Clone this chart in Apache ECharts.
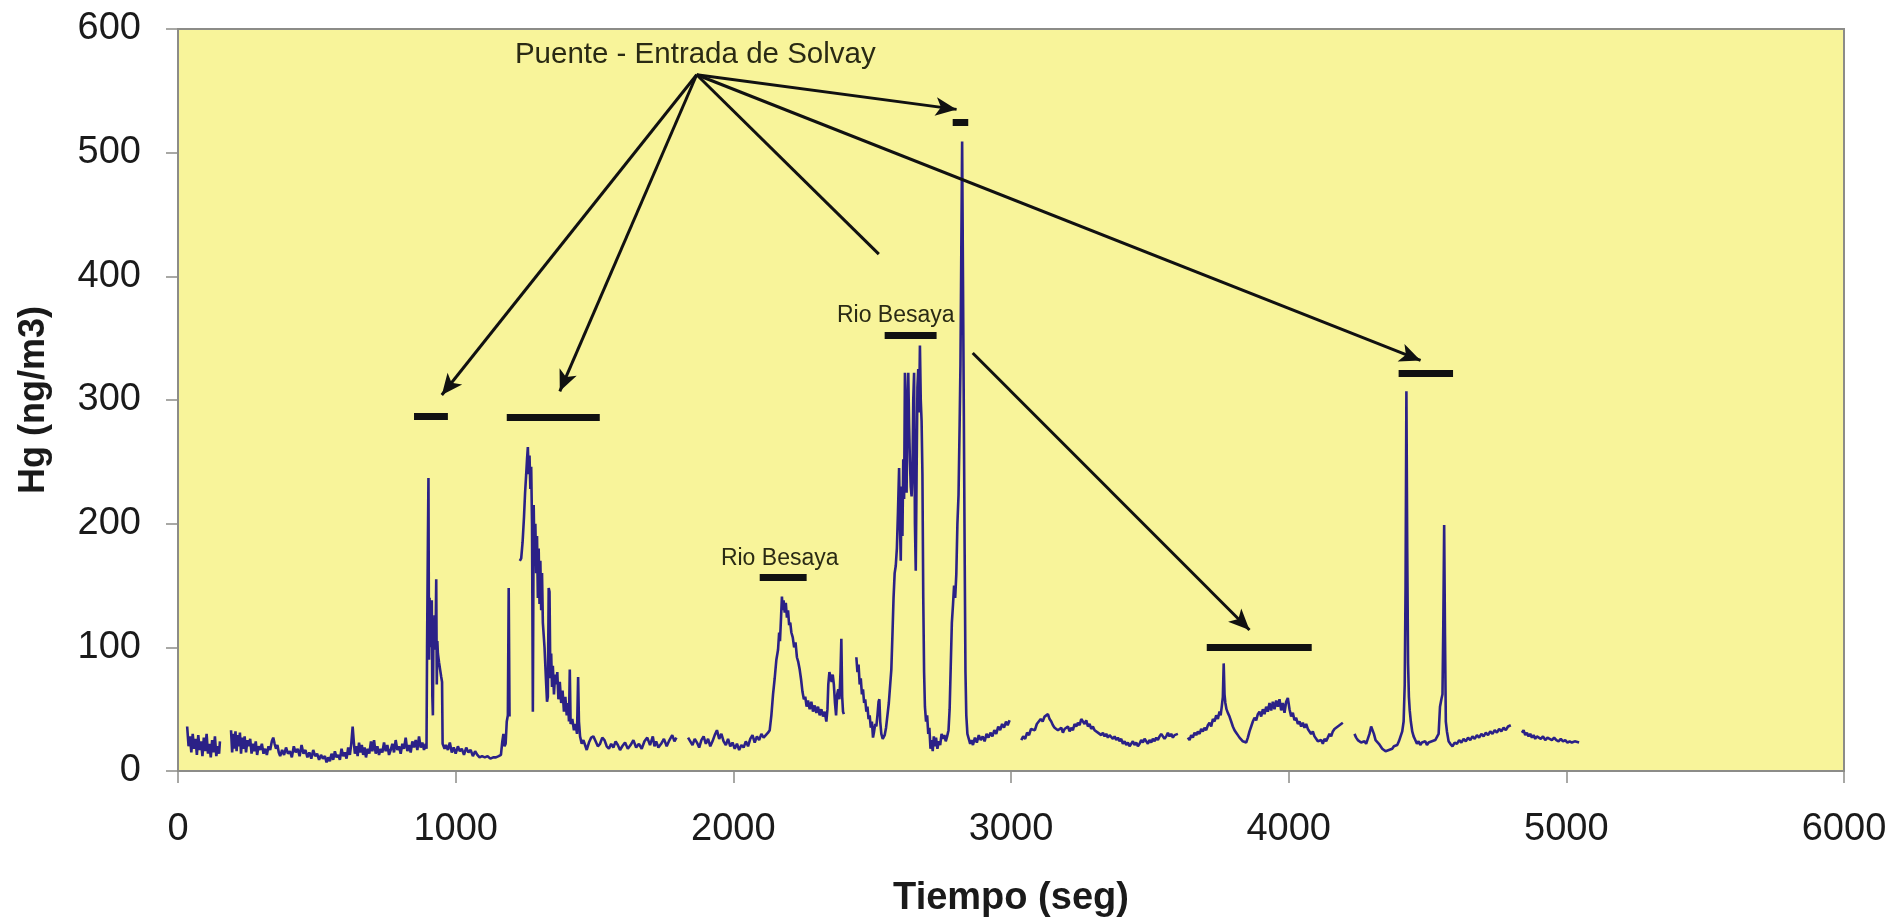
<!DOCTYPE html>
<html>
<head>
<meta charset="utf-8">
<title>Hg - Tiempo</title>
<script src="https://cdn.jsdelivr.net/npm/echarts@6/dist/echarts.min.js"></script>
<style>
    html, body { margin: 0; padding: 0; background: #fff; }
    #grafico { width: 1893px; height: 919px; }
</style>
</head>
<body>
<div id="grafico"></div>
<script>
// [tiempo (seg), Hg (ng/m3)] ; null = hueco en el registro
const mediciones = [
    [33, 36], [38, 20], [43, 28], [48, 15], [53, 30], [58, 18], [63, 26], [68, 13], [73, 29], [78, 17], [83, 24], [88, 12],
    [93, 27], [98, 16], [103, 30], [108, 14], [113, 22], [118, 11], [123, 25], [128, 15], [133, 28], [138, 12], [143, 20],
    [148, 14], [151, 24], [170, null],
    [191, 33], [195, 15], [199, 30], [203, 18], [207, 32], [211, 16], [215, 29], [219, 20], [223, 31], [227, 14], [231, 27],
    [235, 18], [240, 28], [245, 15], [250, 25], [255, 20], [260, 26], [265, 14], [270, 22], [275, 16], [280, 24], [285, 13],
    [290, 20], [296, 17], [302, 22], [308, 14], [314, 18], [320, 13], [326, 20], [332, 17], [338, 24], [343, 27], [348, 22],
    [353, 18], [358, 21], [363, 15], [368, 12], [375, 17], [382, 13], [389, 19], [396, 14], [403, 16], [410, 11], [417, 20],
    [424, 15], [431, 18], [438, 12], [445, 21], [452, 14], [459, 17], [466, 11], [473, 15], [480, 10], [487, 17], [494, 12],
    [501, 14], [508, 9], [515, 13], [522, 10], [529, 12], [535, 7], [541, 11], [547, 8], [553, 14], [559, 9], [565, 16],
    [571, 11], [577, 13], [583, 9], [589, 18], [595, 12], [601, 15], [607, 10], [613, 19], [619, 13], [624, 22], [629, 36],
    [633, 24], [637, 14], [642, 20], [647, 12], [652, 23], [657, 15], [662, 21], [667, 13], [672, 19], [677, 11], [683, 18],
    [689, 14], [695, 24], [700, 16], [706, 25], [712, 14], [718, 20], [724, 13], [730, 18], [736, 15], [742, 23], [748, 16],
    [754, 21], [760, 13], [766, 17], [772, 22], [778, 15], [784, 25], [790, 17], [796, 20], [802, 14], [808, 22], [814, 18],
    [820, 27], [826, 16], [832, 21], [838, 15], [844, 24], [850, 19], [856, 25], [862, 17], [868, 28], [874, 19], [880, 23],
    [886, 17], [892, 22],
    [895, 18], [897, 100], [900, 185], [902, 237], [904, 90], [906, 140], [908, 100], [910, 130], [912, 108], [914, 138],
    [916, 60], [918, 45], [920, 118], [922, 104], [924, 126], [926, 98], [928, 115], [930, 155], [932, 70], [934, 105],
    [936, 95], [940, 88], [944, 82], [948, 76], [951, 72], [953, 22], [960, 18],
    [965, 21], [972, 17], [979, 23], [986, 15], [993, 19], [1000, 14], [1008, 20], [1015, 16], [1022, 18], [1030, 13],
    [1038, 19], [1046, 15], [1054, 17], [1062, 12], [1070, 16], [1078, 13], [1086, 11], [1095, 12], [1105, 11], [1115, 12],
    [1125, 10], [1135, 11], [1145, 11], [1155, 12], [1163, 13], [1168, 24], [1172, 30], [1176, 20], [1180, 22], [1184, 40],
    [1188, 45], [1191, 148], [1194, 44], [1210, null],
    [1231, 170], [1236, 172], [1241, 185], [1246, 205], [1250, 225], [1254, 240], [1257, 252], [1260, 262], [1263, 240],
    [1266, 255], [1269, 228], [1272, 246], [1275, 200], [1278, 48], [1281, 215], [1284, 170], [1287, 200], [1290, 160],
    [1293, 190], [1296, 140], [1299, 180], [1302, 135], [1305, 170], [1308, 130], [1311, 160], [1314, 120], [1317, 110],
    [1320, 100], [1323, 85], [1326, 70], [1329, 56], [1332, 60], [1335, 148], [1338, 145], [1341, 75], [1344, 95],
    [1347, 68], [1350, 85], [1354, 62], [1358, 78], [1362, 70], [1366, 80], [1370, 58], [1375, 72], [1380, 55], [1385, 65],
    [1390, 48], [1395, 60], [1400, 45], [1405, 55], [1408, 40], [1411, 82], [1414, 38], [1420, 42], [1426, 33], [1432, 38],
    [1437, 30], [1441, 76], [1444, 40], [1448, 28], [1454, 22], [1460, 25], [1466, 21],
    [1472, 17], [1480, 23], [1488, 27], [1496, 28], [1504, 24], [1512, 20], [1520, 22], [1528, 27], [1536, 25], [1544, 20],
    [1552, 18], [1560, 22], [1568, 19], [1576, 24], [1584, 21], [1592, 17], [1600, 20], [1610, 23], [1620, 18], [1630, 21],
    [1640, 25], [1650, 19], [1660, 22], [1670, 18], [1680, 24], [1690, 27], [1700, 21], [1710, 28], [1716, 20], [1722, 24],
    [1730, 19], [1740, 22], [1750, 26], [1760, 20], [1770, 25], [1780, 29], [1788, 24], [1795, 27], [1815, null],
    [1837, 27], [1845, 24], [1853, 21], [1861, 26], [1869, 23], [1877, 19], [1885, 25], [1893, 28], [1901, 22], [1909, 26],
    [1917, 20], [1925, 24], [1933, 29], [1941, 33], [1949, 26], [1957, 30], [1965, 24], [1973, 21], [1981, 26], [1989, 20],
    [1997, 23], [2005, 18], [2013, 22], [2021, 17], [2029, 21], [2037, 19], [2045, 24], [2053, 20], [2061, 26], [2069, 29],
    [2077, 23], [2085, 28], [2093, 25], [2101, 30], [2109, 27], [2117, 29], [2125, 31], [2131, 33], [2137, 45], [2143, 62],
    [2149, 75], [2155, 90], [2161, 98], [2165, 112], [2168, 105], [2172, 125], [2175, 141], [2178, 130], [2181, 138],
    [2185, 128], [2189, 136], [2193, 124], [2197, 130], [2201, 118], [2205, 120], [2209, 112], [2214, 108], [2219, 100],
    [2224, 104], [2229, 92], [2234, 88], [2239, 82], [2244, 74], [2249, 64], [2254, 58], [2259, 60], [2264, 52], [2269, 57],
    [2275, 50], [2281, 56], [2287, 48], [2293, 53], [2299, 47], [2305, 52], [2311, 45], [2317, 50], [2323, 44], [2329, 48],
    [2335, 40], [2339, 50], [2342, 70], [2346, 80], [2350, 76], [2354, 72], [2358, 78], [2362, 70], [2366, 55], [2370, 45],
    [2374, 62], [2378, 66], [2382, 58], [2386, 80], [2389, 107], [2392, 60], [2395, 48], [2398, 46], [2420, null],
    [2443, 92], [2447, 80], [2451, 86], [2455, 70], [2459, 75], [2463, 62], [2467, 66], [2471, 55], [2475, 58], [2479, 48],
    [2483, 52], [2487, 42], [2491, 45], [2495, 35], [2499, 40], [2503, 27], [2507, 32], [2511, 38], [2515, 36], [2519, 45],
    [2523, 56], [2526, 58], [2529, 40], [2533, 30], [2538, 26], [2545, 29], [2550, 35], [2555, 45], [2560, 55], [2565, 70],
    [2569, 82], [2573, 110], [2577, 140], [2581, 160], [2585, 166], [2589, 180], [2593, 210], [2597, 245], [2600, 200],
    [2603, 170], [2606, 230], [2609, 190], [2612, 252], [2615, 220], [2618, 322], [2621, 260], [2624, 225], [2627, 300],
    [2630, 322], [2633, 280], [2636, 250], [2639, 230], [2642, 222], [2645, 240], [2648, 300], [2651, 322], [2654, 200],
    [2657, 162], [2660, 240], [2663, 310], [2666, 325], [2669, 290], [2672, 344], [2675, 300], [2678, 283], [2681, 240],
    [2684, 140], [2687, 80], [2690, 52], [2694, 40], [2698, 45], [2702, 30], [2706, 35], [2710, 18], [2714, 25], [2718, 16],
    [2722, 28], [2726, 20], [2730, 27], [2735, 18], [2740, 24], [2745, 21], [2750, 30], [2755, 26], [2760, 29], [2765, 24],
    [2770, 28], [2775, 33], [2779, 50], [2783, 85], [2787, 120], [2791, 134], [2795, 150], [2799, 140], [2803, 159],
    [2807, 200], [2811, 223], [2815, 280], [2818, 329], [2821, 420], [2824, 509], [2827, 400], [2830, 294], [2833, 180],
    [2836, 80], [2839, 45], [2843, 30], [2848, 26], [2853, 22], [2858, 25], [2863, 21], [2870, 27], [2877, 23], [2884, 29],
    [2891, 25], [2898, 28], [2905, 24], [2912, 30], [2919, 27], [2926, 31], [2933, 28], [2940, 33], [2947, 30], [2954, 36],
    [2961, 33], [2968, 38], [2975, 35], [2982, 40], [2988, 37], [2995, 41], [3015, null],
    [3037, 25], [3044, 28], [3051, 26], [3058, 31], [3065, 29], [3072, 34], [3079, 35], [3086, 33], [3093, 38], [3100, 37],
    [3107, 42], [3114, 40], [3121, 44], [3127, 43], [3133, 46], [3139, 42], [3145, 40], [3151, 37], [3157, 35], [3163, 36],
    [3169, 33], [3175, 32], [3181, 35], [3187, 31], [3193, 34], [3199, 33], [3205, 36], [3211, 32], [3217, 35], [3223, 33],
    [3229, 38], [3235, 36], [3241, 39], [3247, 37], [3253, 42], [3259, 40], [3265, 38], [3271, 41], [3277, 36], [3283, 38],
    [3289, 34], [3295, 36], [3301, 33], [3307, 34], [3313, 31], [3319, 32], [3325, 29], [3331, 31], [3337, 28], [3343, 30],
    [3349, 27], [3355, 29], [3361, 28], [3367, 26], [3373, 28], [3379, 25], [3385, 27], [3391, 24], [3397, 26], [3403, 22],
    [3409, 24], [3415, 21], [3421, 23], [3427, 20], [3433, 22], [3439, 24], [3445, 21], [3451, 23], [3457, 20], [3463, 22],
    [3469, 25], [3475, 23], [3481, 26], [3487, 24], [3493, 22], [3499, 25], [3505, 23], [3511, 26], [3517, 24], [3523, 27],
    [3529, 25], [3535, 28], [3541, 30], [3547, 29], [3553, 26], [3559, 28], [3565, 31], [3571, 28], [3577, 30], [3583, 27],
    [3589, 29], [3595, 28], [3601, 30], [3620, null],
    [3637, 27], [3643, 25], [3649, 29], [3655, 27], [3661, 31], [3667, 29], [3673, 32], [3679, 30], [3685, 34], [3691, 32],
    [3697, 35], [3703, 33], [3709, 37], [3715, 39], [3721, 36], [3727, 42], [3733, 40], [3739, 45], [3745, 42], [3751, 48],
    [3755, 45], [3759, 52], [3763, 60], [3766, 87], [3769, 62], [3772, 55], [3776, 50], [3781, 47], [3787, 44], [3793, 40],
    [3799, 36], [3805, 33], [3811, 31], [3817, 29], [3823, 27], [3829, 26], [3835, 24], [3841, 25], [3847, 23], [3853, 27],
    [3859, 32], [3865, 36], [3871, 40], [3877, 43], [3883, 41], [3889, 46], [3895, 48], [3901, 44], [3907, 50], [3913, 46],
    [3919, 52], [3925, 48], [3931, 55], [3937, 49], [3943, 56], [3949, 50], [3955, 57], [3961, 52], [3967, 58], [3973, 49],
    [3979, 55], [3985, 47], [3991, 56], [3997, 59], [4003, 50], [4009, 44], [4015, 47], [4021, 41], [4027, 43], [4033, 38],
    [4039, 40], [4045, 36], [4051, 39], [4057, 35], [4063, 38], [4069, 34], [4075, 33], [4081, 30], [4087, 32], [4093, 28],
    [4099, 26], [4105, 24], [4111, 23], [4117, 25], [4123, 22], [4129, 26], [4135, 24], [4141, 27], [4147, 30], [4153, 28],
    [4159, 32], [4165, 34], [4171, 33], [4177, 36], [4183, 35], [4189, 38], [4195, 39], [4215, null],
    [4237, 30], [4243, 27], [4249, 25], [4255, 24], [4261, 23], [4267, 22], [4273, 24], [4279, 22], [4285, 26], [4291, 30],
    [4297, 36], [4302, 37], [4307, 30], [4313, 25], [4319, 24], [4325, 22], [4331, 20], [4337, 18], [4343, 17], [4349, 16],
    [4355, 15], [4361, 17], [4367, 16], [4373, 18], [4379, 20], [4385, 19], [4391, 21], [4397, 24], [4403, 28], [4409, 32],
    [4414, 40], [4418, 70], [4421, 150], [4424, 307], [4427, 180], [4430, 87], [4433, 60], [4436, 49], [4440, 40], [4445, 32],
    [4450, 28], [4456, 25], [4462, 22], [4468, 24], [4474, 21], [4480, 23], [4486, 22], [4492, 24], [4498, 21], [4504, 23],
    [4510, 22], [4516, 24], [4522, 23], [4528, 25], [4534, 24], [4540, 30], [4545, 52], [4550, 58], [4554, 62], [4557, 120],
    [4560, 199], [4563, 110], [4566, 40], [4570, 32], [4576, 24], [4582, 22], [4590, 20], [4598, 23], [4606, 22], [4614, 25],
    [4622, 23], [4630, 26], [4638, 24], [4646, 27], [4654, 25], [4662, 28], [4670, 26], [4678, 29], [4686, 27], [4694, 30],
    [4702, 28], [4710, 31], [4718, 29], [4726, 32], [4734, 30], [4742, 33], [4750, 31], [4758, 34], [4766, 32], [4774, 35],
    [4782, 33], [4790, 36], [4800, 37], [4820, null],
    [4840, 31], [4846, 33], [4852, 29], [4858, 31], [4864, 28], [4870, 30], [4876, 27], [4882, 29], [4888, 26], [4894, 28],
    [4900, 27], [4908, 26], [4916, 28], [4924, 25], [4932, 27], [4940, 26], [4948, 25], [4956, 27], [4964, 25], [4972, 24],
    [4980, 26], [4988, 24], [4996, 25], [5004, 23], [5012, 24], [5020, 23], [5030, 24], [5046, 23]
]

const ticksX = [0, 1000, 2000, 3000, 4000, 5000, 6000]
const ticksY = [0, 100, 200, 300, 400, 500, 600]

// anotaciones en coordenadas de datos: [desde, hasta]
const origen = [1868, 563]
const flechas = [
    [origen, [950, 304], true],
    [origen, [1375, 307], true],
    [origen, [2524, 418], false],
    [origen, [2804, 535], true],
    [origen, [4475, 332], true],
    [[2862, 338], [3859, 114], true]
]
const barras = [
    [850, 972, 287],
    [1184, 1519, 286],
    [2095, 2264, 157],
    [2545, 2732, 352],
    [2790, 2846, 525],
    [3705, 4083, 100],
    [4396, 4592, 322]
]
const textos = [
    ['Puente - Entrada de Solvay', 1863, 579, 29.5],
    ['Rio Besaya', 2167, 172, 23],
    ['Rio Besaya', 2585, 368, 23]
]

const chart = echarts.init(document.getElementById('grafico'), null, { renderer: 'canvas' })

const fuente = '"Liberation Sans", Arial, sans-serif'

chart.setOption({
    animation: false,
    backgroundColor: '#ffffff',
    grid: {
        left: 178,
        right: 49,
        top: 29,
        bottom: 148,
        show: true,
        backgroundColor: '#F8F49A',
        borderColor: '#8c8c88',
        borderWidth: 2,
        outerBoundsMode: 'none'
    },
    xAxis: {
        type: 'value',
        min: ticksX[0],
        max: ticksX[ticksX.length - 1],
        interval: 1000,
        name: 'Tiempo (seg)',
        nameLocation: 'middle',
        nameGap: 109,
        nameTextStyle: { fontFamily: fuente, fontSize: 38, fontWeight: 'bold', color: '#1a1a1a' },
        axisLine: { show: true, lineStyle: { color: '#8c8c88', width: 2 } },
        axisTick: { show: true, length: 12, lineStyle: { color: '#8c8c88', width: 1.5 } },
        axisLabel: {
            fontFamily: fuente, fontSize: 38, color: '#1a1a1a', margin: 40,
            formatter: v => String(v)
        },
        splitLine: { show: false }
    },
    yAxis: {
        type: 'value',
        min: ticksY[0],
        max: ticksY[ticksY.length - 1],
        interval: 100,
        name: 'Hg (ng/m3)',
        nameLocation: 'middle',
        nameRotate: 90,
        nameGap: 126,
        nameTextStyle: { fontFamily: fuente, fontSize: 36, fontWeight: 'bold', color: '#1a1a1a' },
        axisLine: { show: true, lineStyle: { color: '#8c8c88', width: 2 } },
        axisTick: { show: true, length: 12, lineStyle: { color: '#8c8c88', width: 1.5 } },
        axisLabel: { fontFamily: fuente, fontSize: 38, color: '#1a1a1a', margin: 37 },
        splitLine: { show: false }
    },
    series: [
        {
            name: 'Hg',
            type: 'line',
            data: mediciones.map(d => [d[0], d[1] === null ? '-' : d[1]]),
            showSymbol: false,
            connectNulls: false,
            lineStyle: { color: '#2b2187', width: 2.6 },
            z: 3
        },
        {
            name: 'flechas',
            type: 'line',
            data: [],
            z: 4,
            markLine: {
                silent: true,
                animation: false,
                symbolSize: [14, 21],
                label: { show: false },
                lineStyle: { color: '#111', width: 3, type: 'solid' },
                data: flechas.map(f => [
                    { coord: f[0], symbol: 'none' },
                    { coord: f[1], symbol: f[2] ? 'arrow' : 'none' }
                ])
            }
        },
        {
            name: 'barras',
            type: 'line',
            data: [],
            z: 4,
            markLine: {
                silent: true,
                animation: false,
                symbol: ['none', 'none'],
                label: { show: false },
                lineStyle: { color: '#111', width: 7, type: 'solid' },
                data: barras.map(b => [{ coord: [b[0], b[2]] }, { coord: [b[1], b[2]] }])
            }
        },
        {
            name: 'textos',
            type: 'line',
            data: [],
            z: 5,
            markPoint: {
                silent: true,
                animation: false,
                symbol: 'circle',
                symbolSize: 1,
                itemStyle: { color: 'rgba(0,0,0,0)' },
                data: textos.map(t => ({
                    name: t[0],
                    coord: [t[1], t[2]],
                    label: {
                        show: true,
                        position: 'inside',
                        formatter: '{b}',
                        fontFamily: fuente,
                        fontSize: t[3],
                        color: '#2a2a14'
                    }
                }))
            }
        }
    ]
})

window.addEventListener('resize', function () {
    chart.resize()
})
</script>
</body>
</html>
